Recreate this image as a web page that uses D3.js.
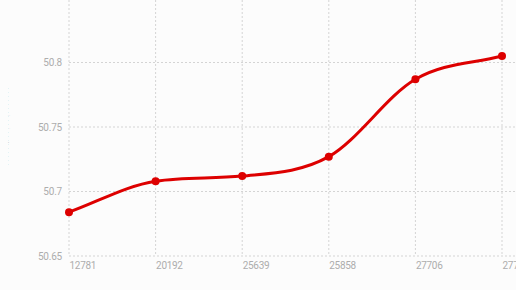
<!DOCTYPE html>
<html>
<head>
<meta charset="utf-8">
<script src="https://cdn.jsdelivr.net/npm/d3@7"></script>
<style>
  body { margin: 0; background: #fcfcfc; }
  svg { display: block; font-family: Roboto, "Noto Sans", sans-serif; }
</style>
</head>
<body>
<svg id="chart" width="516" height="290"></svg>
<script>
// categories on the x axis
const categories = ["12781", "20192", "25639", "25858", "27706", "27789"];
// series values
const values = [50.684, 50.708, 50.712, 50.727, 50.787, 50.805];
// y tick labels
const yTicks = [50.65, 50.7, 50.75, 50.8];

const svg = d3.select("#chart");
const left = 69, right = 502, bottom = 256;

const x = d3.scalePoint()
  .domain(categories)
  .range([left, right]);

const y = d3.scaleLinear()
  .domain([50.65, 50.85])
  .range([bottom, bottom - 0.2 / 0.05 * 64.5]);

// vertical grid
svg.append("g")
  .selectAll("line")
  .data(categories)
  .enter().append("line")
    .attr("x1", d => x(d))
    .attr("x2", d => x(d))
    .attr("y1", 0)
    .attr("y2", bottom)
    .attr("stroke", "#d4d4d4")
    .attr("stroke-dasharray", "2,2");

// horizontal grid
svg.append("g")
  .selectAll("line")
  .data(yTicks)
  .enter().append("line")
    .attr("x1", left)
    .attr("x2", 516)
    .attr("y1", d => y(d))
    .attr("y2", d => y(d))
    .attr("stroke", "#d4d4d4")
    .attr("stroke-dasharray", "2,2");

// y labels
svg.append("g")
  .selectAll("text")
  .data(yTicks)
  .enter().append("text")
    .attr("x", left - 7)
    .attr("y", d => y(d))
    .attr("dy", "0.35em")
    .attr("text-anchor", "end")
    .attr("fill", "#adadad")
    .style("font-size", "10px")
    .style("letter-spacing", "-0.2px")
    .text(d => d);

// x labels
svg.append("g")
  .selectAll("text")
  .data(categories)
  .enter().append("text")
    .attr("x", d => x(d) + 0.5)
    .attr("y", bottom + 13)
    .attr("text-anchor", "start")
    .attr("fill", "#adadad")
    .style("font-size", "10px")
    .style("letter-spacing", "-0.3px")
    .text(d => d);

// faint clipped axis title on the far left
svg.append("line")
  .attr("x1", 8.5).attr("x2", 8.5)
  .attr("y1", 88).attr("y2", 165)
  .attr("stroke", "#e3f3f5")
  .attr("stroke-dasharray", "1,3");
svg.append("text")
  .attr("transform", "translate(10,126) rotate(-90)")
  .attr("text-anchor", "middle")
  .attr("fill", "#4a5578")
  .style("font-size", "3px")
  .style("letter-spacing", "6px")
  .text("- .    :");

// monotone cubic: end tangents equal the end secants,
// inner tangents are the mean of the secants (Fritsch-Carlson limited)
function monotonePath(pts) {
  const n = pts.length;
  const delta = [];
  for (let i = 0; i < n - 1; i++) {
    delta.push((pts[i + 1][1] - pts[i][1]) / (pts[i + 1][0] - pts[i][0]));
  }
  const m = pts.map((p, i) => {
    if (i === 0) return delta[0];
    if (i === n - 1) return delta[n - 2];
    if (Math.sign(delta[i - 1]) !== Math.sign(delta[i])) return 0;
    return (delta[i - 1] + delta[i]) / 2;
  });
  for (let i = 0; i < n - 1; i++) {
    if (delta[i] === 0) { m[i] = m[i + 1] = 0; continue; }
    const a = m[i] / delta[i], b = m[i + 1] / delta[i], s = a * a + b * b;
    if (s > 9) {
      const tau = 3 / Math.sqrt(s);
      m[i] = tau * a * delta[i];
      m[i + 1] = tau * b * delta[i];
    }
  }
  const p = d3.path();
  p.moveTo(pts[0][0], pts[0][1]);
  for (let i = 1; i < n; i++) {
    const h = (pts[i][0] - pts[i - 1][0]) / 3;
    p.bezierCurveTo(
      pts[i - 1][0] + h, pts[i - 1][1] + m[i - 1] * h,
      pts[i][0] - h, pts[i][1] - m[i] * h,
      pts[i][0], pts[i][1]);
  }
  return p.toString();
}

const pts = values.map((v, i) => [x(categories[i]), y(v)]);

svg.append("path")
  .attr("d", monotonePath(pts))
  .attr("fill", "none")
  .attr("stroke", "#dd0000")
  .attr("stroke-width", 3);

svg.append("g")
  .selectAll("circle")
  .data(values)
  .enter().append("circle")
    .attr("cx", (d, i) => x(categories[i]))
    .attr("cy", d => y(d))
    .attr("r", 4)
    .attr("fill", "#dd0000");
</script>
</body>
</html>
